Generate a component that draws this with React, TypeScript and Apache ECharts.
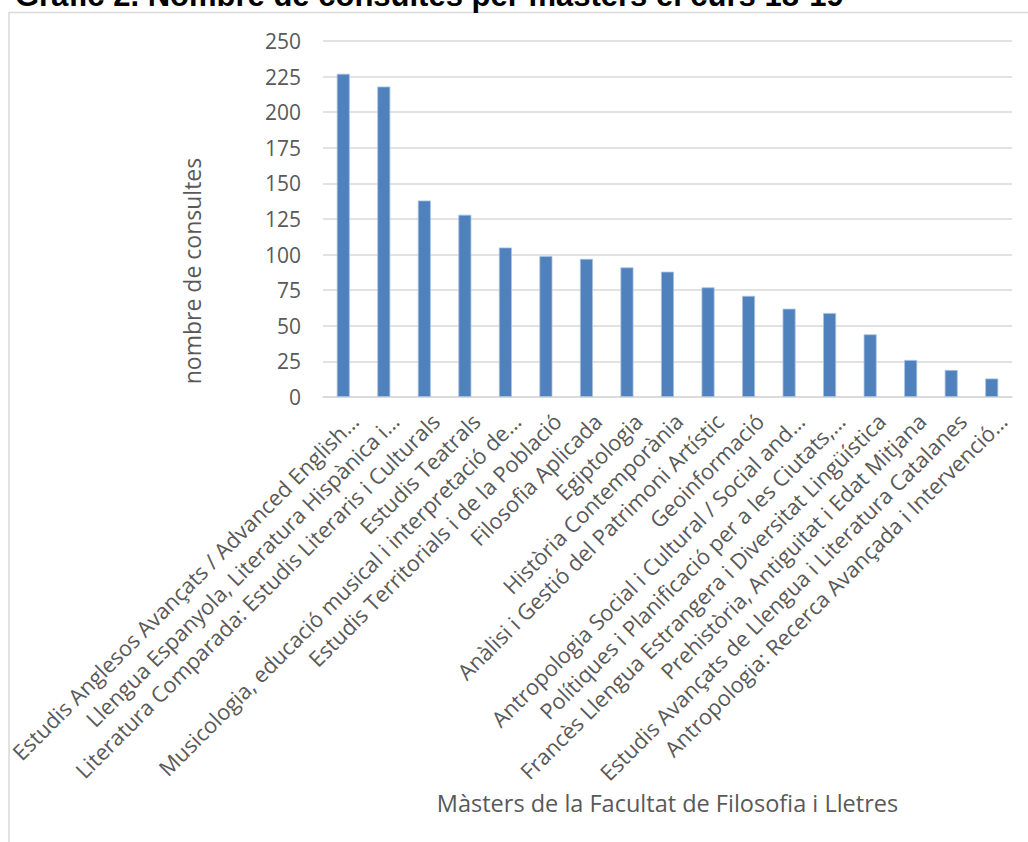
import React, { useEffect, useRef } from "react";
import * as echarts from "echarts";

const titleText = "Gràfic 2. Nombre de consultes per màsters el curs 18-19";
const yAxisName = "nombre de consultes";
const xAxisName = "Màsters de la Facultat de Filosofia i Lletres";

const categories = [
  "Estudis Anglesos Avançats / Advanced English…",
  "Llengua Espanyola, Literatura Hispànica i…",
  "Literatura Comparada: Estudis Literaris i Culturals",
  "Estudis Teatrals",
  "Musicologia, educació musical i interpretació de…",
  "Estudis Territorials i de la Població",
  "Filosofia Aplicada",
  "Egiptologia",
  "Història Contemporània",
  "Anàlisi i Gestió del Patrimoni Artístic",
  "Geoinformació",
  "Antropologia Social i Cultural / Social and…",
  "Polítiques i Planificació per a les Ciutats,…",
  "Francès Llengua Estrangera i Diversitat Lingüística",
  "Prehistòria, Antiguitat i Edat Mitjana",
  "Estudis Avançats de Llengua i Literatura Catalanes",
  "Antropologia: Recerca Avançada i Intervenció…",
];

const values = [227, 218, 138, 128, 105, 99, 97, 91, 88, 77, 71, 62, 59, 44, 26, 19, 13];

const yMin = 0;
const yMax = 250;
const yInterval = 25;

export default function App() {
  const ref = useRef<HTMLDivElement>(null);
  useEffect(() => {
    if (!ref.current) return;
    const chart = echarts.init(ref.current, null, { renderer: "svg" });
    const font = "'Open Sans', 'DejaVu Sans', sans-serif";
    chart.setOption({
      animation: false,
      backgroundColor: "#ffffff",
      graphic: [
        {
          type: "rect",
          shape: { x: 9, y: 12.5, width: 1200, height: 1000 },
          style: { fill: "none", stroke: "#d9d9d9", lineWidth: 1.5 },
          silent: true,
        },
        {
          type: "text",
          x: 15,
          y: 11,
          style: {
            text: titleText,
            font: "bold 31px 'Liberation Sans', Arial, sans-serif",
            fill: "#000000",
            verticalAlign: "bottom",
            align: "left",
          },
        },
      ],
      grid: { left: 323, right: 16, top: 41, bottom: 445, containLabel: false },
      xAxis: {
        type: "category",
        data: categories,
        name: xAxisName,
        nameLocation: "middle",
        nameGap: 389,
        nameTextStyle: { color: "#595959", fontSize: 23.5, fontFamily: font },
        axisLine: { lineStyle: { color: "#d9d9d9", width: 1.5 } },
        axisTick: { show: false },
        axisLabel: {
          interval: 0,
          rotate: 45,
          margin: 9,
          verticalAlign: "top",
          lineHeight: 32,
          color: "#595959",
          fontSize: 21.8,
          fontFamily: font,
          hideOverlap: false,
        },
      },
      yAxis: {
        type: "value",
        min: yMin,
        max: yMax,
        interval: yInterval,
        name: yAxisName,
        nameLocation: "middle",
        nameGap: 120,
        nameTextStyle: {
          color: "#595959",
          fontSize: 23,
          fontFamily: font,
          padding: [0, 104, 0, 0],
        },
        axisLine: { show: false },
        axisTick: { show: false },
        axisLabel: { color: "#595959", fontSize: 21, fontFamily: font, margin: 22 },
        splitLine: { lineStyle: { color: "#d9d9d9", width: 1.5 } },
      },
      series: [
        {
          type: "bar",
          data: values,
          barWidth: 13,
          itemStyle: { color: "#4f81bd", borderColor: "#a9c1e0", borderWidth: 0.8 },
        },
      ],
    });
    return () => chart.dispose();
  }, []);
  return (
    <div
      ref={ref}
      style={{ position: "fixed", left: 0, top: 0, width: 1028, height: 842 }}
    />
  );
}
